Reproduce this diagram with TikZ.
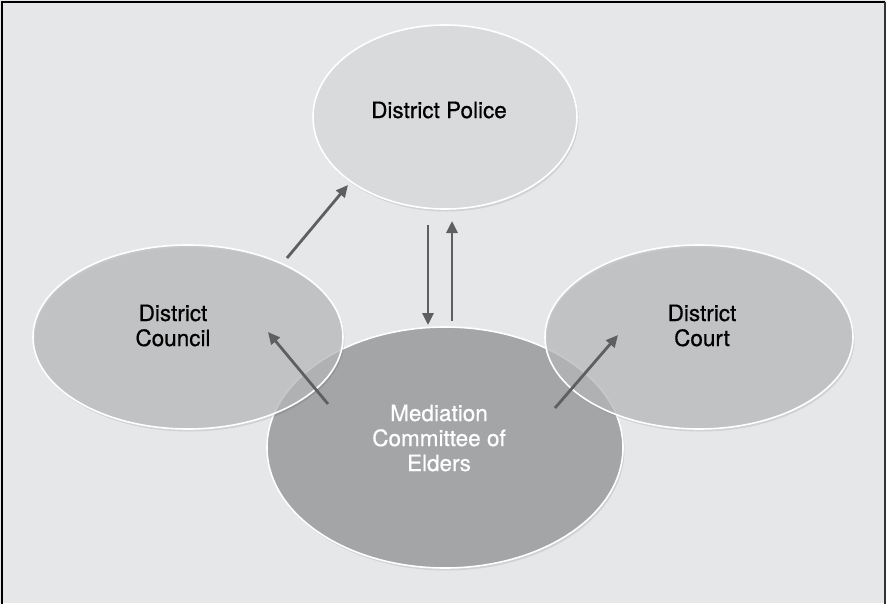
\documentclass[tikz,border=0pt]{standalone}
\usepackage{fontspec}
\setmainfont[FakeBold=0.6]{TeX Gyre Heros}
\usetikzlibrary{shapes.geometric,arrows.meta,shadows}
\definecolor{bg}{HTML}{E6E7E8}
\definecolor{policefill}{HTML}{D9DADB}
\definecolor{sidefill}{HTML}{BBBCBE}
\definecolor{medfill}{HTML}{A4A5A7}
\definecolor{arrowgray}{HTML}{5E5F61}
\definecolor{framegray}{HTML}{333333}
\begin{document}
\begin{tikzpicture}[x=1pt,y=-1pt,
  bubble/.style={ellipse, draw=white, line width=1.6pt, inner sep=0pt,
    drop shadow={shadow xshift=1.5pt, shadow yshift=-2.5pt, opacity=0.09, fill=black}},
  label/.style={align=center, inner sep=0pt, font=\fontsize{22.5}{25}\selectfont},
  link/.style={draw=arrowgray, line width=2.8pt, -{Triangle[length=12pt,width=11pt]}}]
  \useasboundingbox (0,0) rectangle (886,603);
  \fill[bg] (0,0) rectangle (886,603);
  \draw[black, line width=2pt] (2,2) -- (2,640);
  \draw[black, line width=2pt] (1,2) -- (885,2);
  \draw[framegray, line width=1.2pt] (885,2) -- (885,640);
  % ellipses
  \node[bubble, fill=policefill, minimum width=264pt, minimum height=184pt] (police) at (445,117) {};
  \node[bubble, fill=medfill, minimum width=356pt, minimum height=241pt] (med) at (445,447.5) {};
  \node[bubble, fill=sidefill, fill opacity=0.72, minimum width=310pt, minimum height=184pt] (council) at (188,337) {};
  \node[bubble, fill=sidefill, fill opacity=0.72, minimum width=308pt, minimum height=184pt] (court) at (699,337) {};
  % labels
  \node[label] (policeT) at (439,110) {District Police};
  \node[label] (councilT) at (173,325.5) {District\\Council};
  \node[label] (courtT) at (702,325.5) {District\\Court};
  \node[label, text=white] (medT) at (439,438) {Mediation\\Committee of\\Elders};
  % arrow end points
  \coordinate (cpS) at (287,258);
  \coordinate (cpE) at (348,185);
  \coordinate (pmS) at (428,225);
  \coordinate (pmE) at (428,325);
  \coordinate (mpS) at (452,321);
  \coordinate (mpE) at (452,221);
  \coordinate (mcS) at (328,404);
  \coordinate (mcE) at (268,332);
  \coordinate (mtS) at (555,408);
  \coordinate (mtE) at (618,335);
  % arrows
  \draw[link] (cpS) -- (cpE);
  \draw[link] (pmS) -- (pmE);
  \draw[link] (mpS) -- (mpE);
  \draw[link] (mcS) -- (mcE);
  \draw[link] (mtS) -- (mtE);
\end{tikzpicture}
\end{document}
